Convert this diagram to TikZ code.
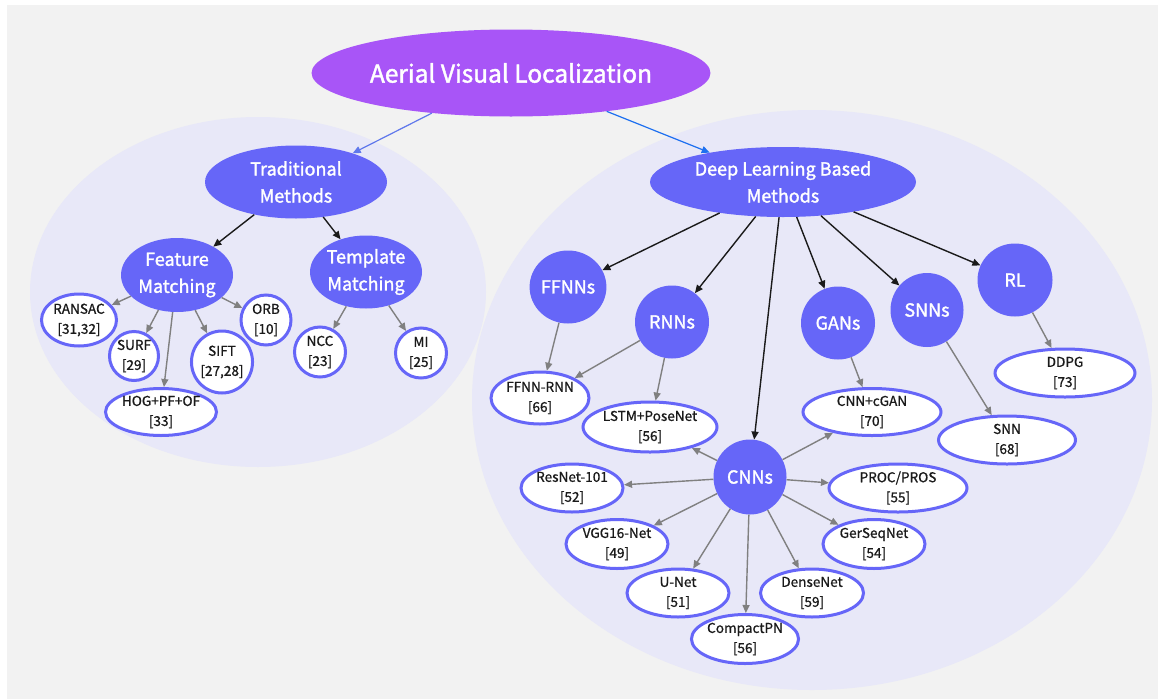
\documentclass[tikz,border=0pt]{standalone}
\usepackage{fontspec}
\setmainfont{Noto Sans CJK SC}
\newfontfamily\medfont{Noto Sans CJK SC}[FakeBold=1.6]
\newfontfamily\leaffam{Noto Sans CJK SC}[FakeBold=0.8]
\usetikzlibrary{shapes.geometric,arrows.meta}
\definecolor{bggrey}{RGB}{242,242,242}
\definecolor{lav}{RGB}{232,232,248}
\definecolor{indig}{RGB}{102,102,248}
\definecolor{purp}{RGB}{168,85,247}
\definecolor{arrblueA}{RGB}{96,120,236}
\definecolor{arrblueB}{RGB}{30,112,240}
\definecolor{darkln}{RGB}{26,26,26}
\definecolor{greyln}{RGB}{128,128,128}
\tikzset{
  titlenode/.style={ellipse, fill=purp, draw=none, inner sep=0pt, text=white, font=\medfont\fontsize{24.5}{30}\selectfont},
  midnode/.style={ellipse, fill=indig, draw=none, inner sep=0pt, text=white, align=center, font=\medfont\fontsize{18}{27}\selectfont},
  leafnode/.style={ellipse, fill=white, draw=indig, line width=3pt, inner sep=0pt, text=darkln, align=center, font=\leaffam\fontsize{13.6}{20}\selectfont},
  sz/.style 2 args={minimum width=#1pt, minimum height=#2pt},
  tip/.style={-{Triangle[length=8pt,width=7pt]}},
  blackarr/.style={tip, draw=darkln, line width=1.4pt},
  greyarr/.style={tip, draw=greyln, line width=1.4pt},
}
\begin{document}
\begin{tikzpicture}[x=1pt,y=-1pt]
\useasboundingbox (0,0) rectangle (1158,699);
\fill[white] (0,0) rectangle (1158,699);
\fill[bggrey] (7,5) rectangle (1158,699);
% background regions
\fill[lav] (258,292) ellipse [x radius=228, y radius=175];
\fill[lav] (812,400) ellipse [x radius=340, y radius=290];

% title
\node[titlenode, sz={393}{87}] (title) at (511,73) {Aerial Visual Localization};

% traditional branch
\node[midnode, sz={182}{73}] (trad) at (296,182) {Traditional\\Methods};
\node[midnode, sz={112}{74}] (feat) at (177,275) {Feature\\Matching};
\node[midnode, sz={112}{73}] (templ) at (366,272) {Template\\Matching};
\node[leafnode, sz={75}{52}] (ransac) at (79,320) {RANSAC\\{}[31,32]};
\node[leafnode, sz={49}{49}] (surf) at (134,356) {SURF\\{}[29]};
\node[leafnode, sz={111}{47}] (hog) at (161,412) {HOG+PF+OF\\{}[33]};
\node[leafnode, sz={56}{62}] (sift) at (222,362) {SIFT\\{}[27,28]};
\node[leafnode, sz={50}{50}] (orb) at (266,320) {ORB\\{}[10]};
\node[leafnode, sz={51}{50}] (ncc) at (320,352) {NCC\\{}[23]};
\node[leafnode, sz={51}{50}] (mi) at (421,353) {MI\\{}[25]};

% deep learning branch
\node[midnode, sz={266}{70}] (dl) at (783,182) {Deep Learning Based\\Methods};
\node[midnode, sz={76}{73}] (ffnns) at (568,287) {FFNNs};
\node[midnode, sz={74}{73}] (rnns) at (672,322) {RNNs};
\node[midnode, sz={74}{73}] (gans) at (838,323) {GANs};
\node[midnode, sz={73}{74}] (snns) at (927,310) {SNNs};
\node[midnode, sz={75}{73}] (rl) at (1015,280) {RL};
\node[midnode, sz={73}{75}] (cnns) at (750,477) {CNNs};

\node[leafnode, sz={98}{52}] (ffnnrnn) at (540,398) {FFNN-RNN\\{}[66]};
\node[leafnode, sz={134}{50}] (lstm) at (650,427) {LSTM+PoseNet\\{}[56]};
\node[leafnode, sz={138}{47}] (cgan) at (872,412) {CNN+cGAN\\{}[70]};
\node[leafnode, sz={140}{48}] (ddpg) at (1065,373) {DDPG\\{}[73]};
\node[leafnode, sz={137}{48}] (snn) at (1007,440) {SNN\\{}[68]};
\node[leafnode, sz={102}{48}] (resnet) at (572,488) {ResNet-101\\{}[52]};
\node[leafnode, sz={138}{48}] (proc) at (898,488) {PROC/PROS\\{}[55]};
\node[leafnode, sz={102}{49}] (vgg) at (617,544) {VGG16-Net\\{}[49]};
\node[leafnode, sz={102}{49}] (gerseq) at (874,544) {GerSeqNet\\{}[54]};
\node[leafnode, sz={102}{48}] (unet) at (678,593) {U-Net\\{}[51]};
\node[leafnode, sz={103}{48}] (dense) at (812,593) {DenseNet\\{}[59]};
\node[leafnode, sz={102}{49}] (compact) at (745,639) {CompactPN\\{}[56]};

% connectors
\draw[tip, draw=arrblueA, fill=arrblueA, line width=1.2pt] (title) -- (trad);
\draw[tip, draw=arrblueB, fill=arrblueB, line width=1.2pt] (title) -- (dl);

\draw[blackarr] (trad) -- (feat);
\draw[blackarr] (trad) -- (templ);
\draw[greyarr] (feat) -- (ransac);
\draw[greyarr] (feat) -- (surf);
\draw[greyarr] (feat) -- (hog);
\draw[greyarr] (feat) -- (sift);
\draw[greyarr] (feat) -- (orb);
\draw[greyarr] (templ) -- (ncc);
\draw[greyarr] (templ) -- (mi);

\draw[blackarr] (dl) -- (ffnns);
\draw[blackarr] (dl) -- (rnns);
\draw[blackarr] (dl) -- (cnns);
\draw[blackarr] (dl) -- (gans);
\draw[blackarr] (dl) -- (snns);
\draw[blackarr] (dl) -- (rl);

\draw[greyarr] (ffnns) -- (ffnnrnn);
\draw[greyarr] (rnns) -- (ffnnrnn);
\draw[greyarr] (rnns) -- (lstm);
\draw[greyarr] (gans) -- (cgan);
\draw[greyarr] (snns) -- (snn);
\draw[greyarr] (rl) -- (ddpg);

\draw[greyarr] (cnns) -- (lstm);
\draw[greyarr] (cnns) -- (cgan);
\draw[greyarr] (cnns) -- (resnet);
\draw[greyarr] (cnns) -- (proc);
\draw[greyarr] (cnns) -- (vgg);
\draw[greyarr] (cnns) -- (gerseq);
\draw[greyarr] (cnns) -- (unet);
\draw[greyarr] (cnns) -- (dense);
\draw[greyarr] (cnns) -- (compact);
\end{tikzpicture}
\end{document}
